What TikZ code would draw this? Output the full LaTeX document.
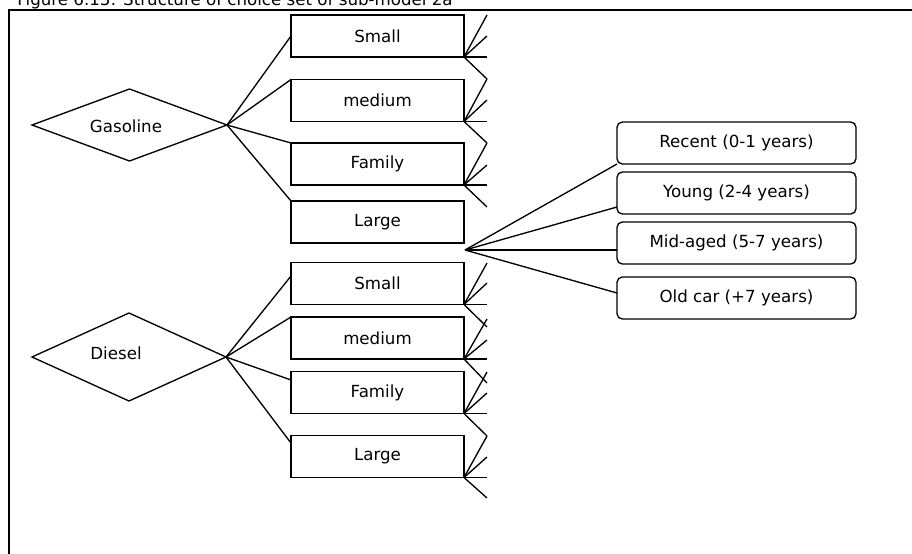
\documentclass[tikz,border=0pt]{standalone}
\usepackage{fontspec}
\setmainfont{DejaVu Sans}
\usetikzlibrary{shapes.geometric}
\begin{document}
\begin{tikzpicture}[x=0.75pt,y=-0.75pt,
  every node/.style={font=\fontsize{12.5}{14}\selectfont},
  line/.style={line width=1pt, black},
  sizebox/.style={draw, line width=1pt, rectangle, minimum width=129.75pt,
    minimum height=31.5pt, inner sep=0pt, outer sep=0pt},
  agebox/.style={draw, line width=1pt, rounded corners=4pt, minimum width=179.25pt,
    minimum height=31.5pt, inner sep=0pt, outer sep=0pt},
  fuel/.style={draw, line width=1pt, diamond, aspect=1, inner sep=0pt, outer sep=0pt}]
\useasboundingbox (0,0) rectangle (912,553);
\clip (0,0) rectangle (912,553);

% caption and frame
\node[anchor=base west, inner sep=0pt] (title) at (17,6)
  {Figure 6.13: Structure of choice set of sub-model 2a};
\draw[line] (9,570) -- (9,10) -- (930,10);

% fuel types
\node[fuel, minimum width=146.25pt, minimum height=54pt] (gas) at (129.5,125) {};
\node[inner sep=0pt] (gaslbl) at (126,126) {Gasoline};
\node[fuel, minimum width=145.5pt, minimum height=66pt] (die) at (129,357) {};
\node[inner sep=0pt] (dielbl) at (116,353) {Diesel};

% car sizes
\node[sizebox] (us) at (377.5,36)   {Small};
\node[sizebox] (um) at (377.5,100.5){medium};
\node[sizebox] (uf) at (377.5,164)  {Family};
\node[sizebox] (ul) at (377.5,222)  {Large};
\node[sizebox] (ls) at (377.5,283.5){Small};
\node[sizebox] (lm) at (377.5,338)  {medium};
\node[sizebox] (lf) at (377.5,392.5){Family};
\node[sizebox] (ll) at (377.5,456.5){Large};

% car ages
\node[agebox] (rec) at (736.5,143) {Recent (0-1 years)};
\node[agebox] (yng) at (736.5,193) {Young (2-4 years)};
\node[agebox] (mid) at (736.5,243) {Mid-aged (5-7 years)};
\node[agebox] (old) at (736.5,298) {Old car (+7 years)};

% fuel -> size
\draw[line] (gas.east) -- (us.west);
\draw[line] (gas.east) -- (um.north west);
\draw[line] (gas.east) -- (uf.north west);
\draw[line] (gas.east) -- (ul.north west);
\draw[line] (die.east) -- ([yshift=5.6pt]ls.west);
\draw[line] (die.east) -- (lm.north west);
\draw[line] (die.east) -- ([yshift=9.4pt]lf.west);
\draw[line] (die.east) -- ([yshift=10.1pt]ll.west);

% open fans at the size boxes
\foreach \b/\t/\m/\d in {us/15/36/79, um/79/100/143, uf/143/165/207,
                         ls/263/283/327, lm/319/340/383, lf/372/393/436, ll/436/457/498}{
  \coordinate (\b-t) at (487,\t);
  \coordinate (\b-m) at (487,\m);
  \coordinate (\b-d) at (487,\d);
  \draw[line] (\b-t) -- (\b.south east) -- (\b-d);
  \draw[line] (\b.south east) -- (\b-m);
  \draw[line] (\b.south east) -- ++(23,0);
}

% size -> age
\coordinate (apex) at (465,250);
\draw[line] (apex) -- (rec.south west);
\draw[line] (apex) -- ([yshift=-10.5pt]yng.west);
\draw[line] (apex) -- ([yshift=-5.25pt]mid.west);
\draw[line] (apex) -- ([yshift=3.75pt]old.west);
\end{tikzpicture}
\end{document}
